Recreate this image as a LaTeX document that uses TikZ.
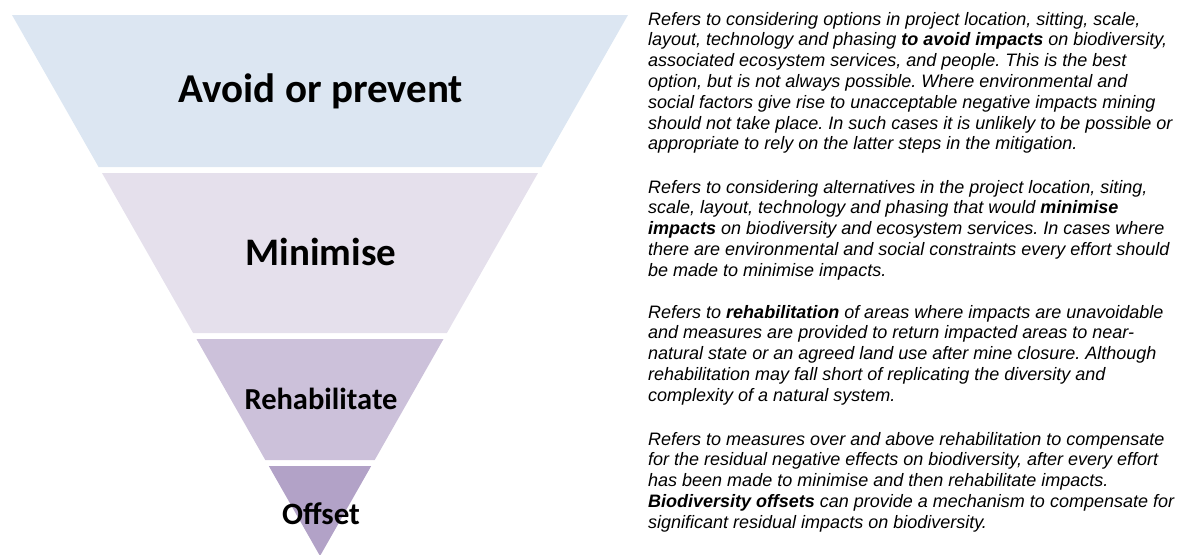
\documentclass[tikz,border=0pt]{standalone}
\usepackage{fontspec}
\setmainfont{Liberation Sans}
\newfontfamily\stepfont{Carlito}
\definecolor{avoidc}{HTML}{DCE6F2}
\definecolor{minic}{HTML}{E5E0EC}
\definecolor{rehabc}{HTML}{CCC1DA}
\definecolor{offsetc}{HTML}{B2A2C7}
\frenchspacing
\begin{document}
\begin{tikzpicture}[x=1pt,y=-1pt,
  steplabel/.style={anchor=base, inner sep=0pt},
  desc/.style={anchor=base west, inner sep=0pt}]
\useasboundingbox (0,0) rectangle (1188,554);

% inverted pyramid, four bands
\fill[avoidc]  (12,15) -- (628,15) -- (541.4,167) -- (98.6,167) -- cycle;
\fill[minic]   (102,173) -- (538,173) -- (446.9,333) -- (193.1,333) -- cycle;
\fill[rehabc]  (196.5,339) -- (443.5,339) -- (374.7,460) -- (265.3,460) -- cycle;
\fill[offsetc] (268.8,466) -- (371.2,466) -- (320,556) -- cycle;

\node[steplabel, font=\stepfont\bfseries\fontsize{41}{49}\selectfont] (avoid) at (321,102) {Avoid or prevent};
\node[steplabel, font=\stepfont\bfseries\fontsize{39}{47}\selectfont] (mini) at (321,265) {Minimise};
\node[steplabel, font=\stepfont\bfseries\fontsize{30.5}{36}\selectfont] (rehab) at (321,409) {Rehabilitate};
\node[steplabel, font=\stepfont\bfseries\fontsize{31}{37}\selectfont] (offset) at (321,524) {Offset};

% descriptions
\newcommand{\descbox}[1]{\parbox[t]{540pt}{\fontsize{18}{20.8}\selectfont\itshape #1}}
\node[desc] (d1) at (648,25) {\descbox{Refers to considering options in project location, sitting, scale,\\
layout, technology and phasing \textbf{to avoid impacts} on biodiversity,\\
associated ecosystem services, and people. This is the best\\
option, but is not always possible. Where environmental and\\
social factors give rise to unacceptable negative impacts mining\\
should not take place. In such cases it is unlikely to be possible or\\
appropriate to rely on the latter steps in the mitigation.}};
\node[desc] (d2) at (648,193) {\descbox{Refers to considering alternatives in the project location, siting,\\
scale, layout, technology and phasing that would \textbf{minimise}\\
\textbf{impacts} on biodiversity and ecosystem services. In cases where\\
there are environmental and social constraints every effort should\\
be made to minimise impacts.}};
\node[desc] (d3) at (648,318) {\descbox{Refers to \textbf{rehabilitation} of areas where impacts are unavoidable\\
and measures are provided to return impacted areas to near-\\
natural state or an agreed land use after mine closure. Although\\
rehabilitation may fall short of replicating the diversity and\\
complexity of a natural system.}};
\node[desc] (d4) at (648,445) {\descbox{Refers to measures over and above rehabilitation to compensate\\
for the residual negative effects on biodiversity, after every effort\\
has been made to minimise and then rehabilitate impacts.\\
\textbf{Biodiversity offsets} can provide a mechanism to compensate for\\
significant residual impacts on biodiversity.}};
\end{tikzpicture}
\end{document}
